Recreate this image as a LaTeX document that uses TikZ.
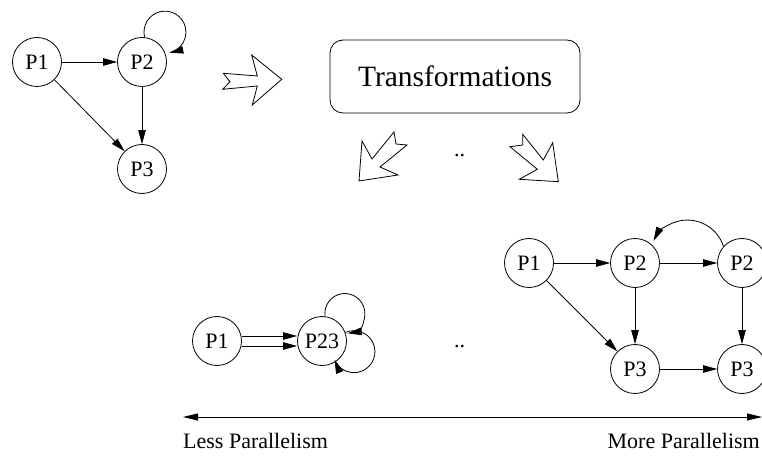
\documentclass[tikz,border=0pt]{standalone}
\usepackage{fontspec}
\setmainfont{Liberation Serif}
\usetikzlibrary{arrows.meta}
\begin{document}
\begin{tikzpicture}[x=1pt,y=1pt,
  proc/.style={circle,draw,line width=0.8pt,minimum size=49pt,inner sep=0pt,font=\fontsize{22}{26}\selectfont},
  arr/.style={line width=0.8pt,-{Triangle[length=14pt,width=7.5pt]}},
  ln/.style={line width=0.8pt},
  bigarrow/.style={line width=0.8pt,line join=miter,fill=white},
  lbl/.style={font=\fontsize{22}{26}\selectfont,inner sep=0pt}]
\useasboundingbox (0,0) rectangle (762,455);
% top-left graph
\node[proc] (A1) at (37,393) {P1};
\node[proc] (A2) at (142,393) {P2};
\node[proc] (A3) at (142,286) {P3};
\draw[arr] (A1) -- (A2);
\draw[arr] (A1) -- (A3);
\draw[arr] (A2) -- (A3);
\draw[arr] (A2.84) arc[start angle=194,end angle=-78,radius=21];
% block arrows
\draw[bigarrow] (223.3,381.7) -- (257.3,379) -- (251.7,400) -- (281.7,375.7) -- (252.3,350) -- (257.3,369) -- (222.7,365.7) -- (230,373.3) -- cycle;
\draw[bigarrow] (359,274) -- (362,314) -- (372,296) -- (394,323) -- (396,311) -- (407,310) -- (380,288) -- (398,280) -- cycle;
\draw[bigarrow] (510,308.3) -- (522.7,310) -- (522.7,320.7) -- (543.3,295) -- (552.7,312.3) -- (558.3,273.3) -- (519.3,275.7) -- (537.3,285.7) -- cycle;
% transformations box
\node[draw,line width=0.8pt,rounded corners=13pt,minimum width=250pt,minimum height=73pt,inner sep=0pt,font=\fontsize{29.5}{34}\selectfont] (T) at (455,378.5) {Transformations};
\node[lbl,anchor=base] (d1) at (459.5,298.5) {..};
% bottom-left graph
\node[proc] (B1) at (217,114) {P1};
\node[proc] (B23) at (322,114) {P23};
\draw[arr] ([yshift=5pt]B1.east) -- ([yshift=5pt]B1.east -| B23.west);
\draw[arr] ([yshift=-5pt]B1.east) -- ([yshift=-5pt]B1.east -| B23.west);
\draw[arr] (B23.83) arc[start angle=188,end angle=-82,radius=20];
\draw[arr] (B23.20) arc[start angle=114,end angle=-158,radius=21];
\node[lbl,anchor=base] (d2) at (459.5,107.8) {..};
% right graph
\node[proc] (C1) at (529,192) {P1};
\node[proc] (C2) at (635,192) {P2};
\node[proc] (C2b) at (742,192) {P2};
\node[proc] (C3) at (635,86) {P3};
\node[proc] (C3b) at (742,86) {P3};
\draw[arr] (C1) -- (C2);
\draw[arr] (C1) -- (C3);
\draw[arr] (C2) -- (C2b);
\draw[arr] (C2) -- (C3);
\draw[arr] (C2b) -- (C3b);
\draw[arr] (C3) -- (C3b);
\draw[arr] (C2b.138) arc[start angle=18,end angle=153,radius=38];
% axis
\coordinate (L) at (183,38);
\coordinate (R) at (762,38);
\draw[line width=0.8pt,{Triangle[length=15pt,width=7pt]}-{Triangle[length=15pt,width=7pt]}] (L) -- (R);
\node[lbl,anchor=base west] (less) at (183,7) {Less Parallelism};
\node[lbl,anchor=base east] (more) at (760,7) {More Parallelism};
\end{tikzpicture}
\end{document}
